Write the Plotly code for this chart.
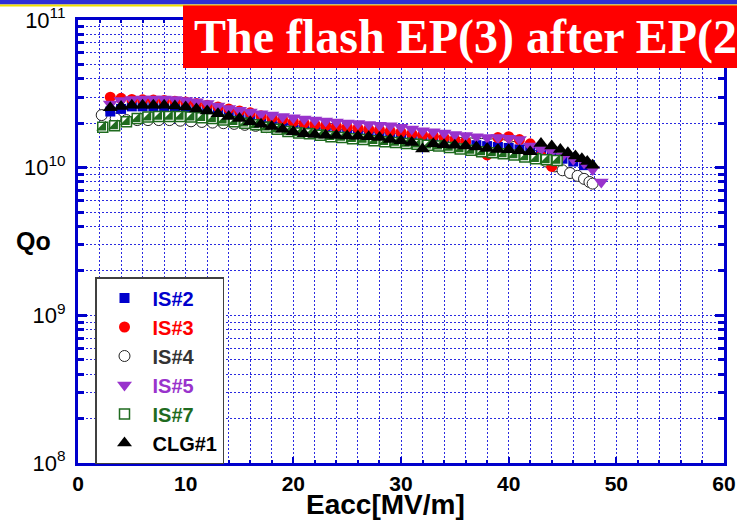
import numpy as np
import plotly.graph_objects as go

# ---------------- data (Q values in units of 1e10) ----------------
e_is2 = [3, 4, 5, 6, 7, 8, 9, 10, 11, 12, 13, 14, 15, 16, 17, 18, 19, 20, 21, 22, 23, 24, 25, 26,
         27, 28, 29, 30, 31, 32, 33, 34, 35, 36, 37, 38, 39, 40, 41, 42, 43, 44, 45, 46, 47]
q_is2 = [2.4, 2.5, 2.6, 2.6, 2.6, 2.6, 2.55, 2.5, 2.45, 2.4, 2.3, 2.25, 2.2, 2.1, 2.0, 1.95, 1.9,
         1.85, 1.82, 1.8, 1.78, 1.75, 1.72, 1.7, 1.68, 1.66, 1.64, 1.6, 1.58, 1.56, 1.53, 1.5, 1.48,
         1.45, 1.42, 1.4, 1.38, 1.36, 1.33, 1.3, 1.26, 1.22, 1.15, 1.1, 1.04]

e_is3 = [3, 4, 5, 6, 7, 8, 9, 10, 11, 12, 13, 14, 15, 16, 17, 18, 19, 20, 21, 22, 23, 24, 25, 26,
         27, 28, 29, 30, 31, 32, 33, 34, 35, 36, 37, 38, 39, 40, 41, 42, 43, 44]
q_is3 = [3.0, 2.95, 2.9, 2.88, 2.87, 2.85, 2.82, 2.78, 2.72, 2.65, 2.58, 2.5, 2.42, 2.35, 2.25,
         2.18, 2.12, 2.05, 2.0, 1.96, 1.93, 1.9, 1.88, 1.85, 1.82, 1.8, 1.77, 1.74, 1.7, 1.67, 1.64,
         1.6, 1.55, 1.5, 1.3, 1.22, 1.6, 1.62, 1.55, 1.45, 1.2, 1.02]

e_is4 = [2.2, 3.5, 4.5, 5.5, 6.5, 7.5, 8.5, 9.5, 10.5, 11.5, 12.5, 13.5, 14.5, 15.5, 16.5, 17.5,
         18.5, 19.5, 20.5, 21.5, 22.5, 23.5, 24.5, 25.5, 26.5, 27.5, 28.5, 29.5, 30.5, 31.5, 32.5,
         33.5, 34.5, 35.5, 36.5, 37.5, 38.5, 39.5, 40.5, 41.5, 42.5, 43.5, 44.3, 45.0, 45.7, 46.4,
         47.0, 47.5, 47.8]
q_is4 = [2.27, 2.15, 2.1, 2.1, 2.1, 2.1, 2.1, 2.08, 2.06, 2.04, 2.02, 2.0, 1.98, 1.95, 1.92, 1.88,
         1.85, 1.8, 1.76, 1.72, 1.7, 1.68, 1.66, 1.64, 1.62, 1.6, 1.58, 1.56, 1.54, 1.52, 1.5, 1.49,
         1.48, 1.47, 1.46, 1.45, 1.44, 1.42, 1.38, 1.3, 1.2, 1.1, 1.02, 0.96, 0.92, 0.88, 0.84, 0.8,
         0.78]

e_is5 = [3, 4, 5, 6, 7, 8, 9, 10, 11, 12, 13, 14, 15, 16, 17, 18, 19, 20, 21, 22, 23, 24, 25, 26,
         27, 28, 29, 30, 31, 32, 33, 34, 35, 36, 37, 38, 39, 40, 41, 42, 43, 44, 45, 46, 47, 47.8,
         48.6]
q_is5 = [2.7, 2.85, 2.9, 2.92, 2.92, 2.92, 2.9, 2.85, 2.8, 2.72, 2.62, 2.52, 2.45, 2.38, 2.32,
         2.27, 2.22, 2.18, 2.14, 2.1, 2.07, 2.04, 2.01, 1.99, 1.96, 1.94, 1.92, 1.88, 1.83, 1.78,
         1.75, 1.72, 1.68, 1.65, 1.62, 1.6, 1.6, 1.58, 1.55, 1.4, 1.33, 1.28, 1.2, 1.14, 1.08, 0.97,
         0.8]

e_is7 = [2.3, 3.4, 4.5, 5.5, 6.5, 7.5, 8.5, 9.5, 10.5, 11.5, 12.5, 13.5, 14.5, 15.5, 16.5, 17.5,
         18.5, 19.5, 20.5, 21.5, 22.5, 23.5, 24.5, 25.5, 26.5, 27.5, 28.5, 29.5, 30.5, 31.5, 32.5,
         33.5, 34.5, 35.5, 36.5, 37.5, 38.5, 39.5, 40.5, 41.5, 42.5, 43.5, 44.5]
q_is7 = [1.88, 1.92, 2.05, 2.15, 2.2, 2.22, 2.22, 2.22, 2.2, 2.18, 2.15, 2.1, 2.05, 2.0, 1.95,
         1.88, 1.82, 1.76, 1.72, 1.7, 1.66, 1.62, 1.6, 1.57, 1.55, 1.52, 1.5, 1.48, 1.46, 1.44,
         1.42, 1.4, 1.37, 1.34, 1.31, 1.28, 1.26, 1.24, 1.22, 1.18, 1.15, 1.13, 1.12]

e_clg1 = [3, 4, 5, 6, 7, 8, 9, 10, 11, 12, 13, 14, 15, 16, 17, 18, 19, 20, 21, 22, 23, 24, 25, 26,
          27, 28, 29, 30, 31, 32, 33, 34, 35, 36, 37, 38, 39, 40, 41, 42, 43, 44, 44.8, 45.5, 46.2,
          46.8, 47.3, 47.8]
q_clg1 = [2.55, 2.6, 2.65, 2.65, 2.65, 2.65, 2.62, 2.58, 2.5, 2.42, 2.32, 2.22, 2.15, 2.05, 1.97,
          1.9, 1.82, 1.75, 1.7, 1.68, 1.66, 1.65, 1.64, 1.63, 1.62, 1.6, 1.55, 1.52, 1.48, 1.34,
          1.45, 1.43, 1.42, 1.4, 1.38, 1.35, 1.33, 1.32, 1.3, 1.28, 1.46, 1.4, 1.33, 1.26, 1.2,
          1.15, 1.1, 1.04]

x_tick_vals = [0, 10, 20, 30, 40, 50, 60]
y_tick_vals = [1e8, 1e9, 1e10, 1e11]
y_tick_text = ["10<sup>8</sup>", "10<sup>9</sup>", "10<sup>10</sup>", "10<sup>11</sup>"]

title_text = "The flash EP(3) after EP(2)"
x_title = "Eacc[MV/m]"
y_title = "Qo"

# ---------------- layout helpers ----------------
W, H = 737, 520
L, R, T, B = 78, 724, 20, 463


def px(xp):
    return (xp - L) / (R - L)


def py(yp):
    return (B - yp) / (B - T)


def scale(v):
    return np.array(v) * 1e10


FONT = "Liberation Sans, Arial, sans-serif"
GREEN = "#1f6b1f"
fig = go.Figure()

# IS#4 open circles (drawn first, underneath)
fig.add_trace(go.Scatter(x=e_is4, y=scale(q_is4), mode="markers",
                         name='<span style="color:#333333">IS#4</span>', legendrank=3,
                         marker=dict(symbol="circle", size=11, color="white",
                                     line=dict(color="#222222", width=1))))
fig.add_trace(go.Scatter(x=e_is2, y=scale(q_is2), mode="markers",
                         name='<span style="color:#0000cc">IS#2</span>', legendrank=1,
                         marker=dict(symbol="square", size=10, color="#0000cc",
                                     line=dict(width=0))))
fig.add_trace(go.Scatter(x=e_is3, y=scale(q_is3), mode="markers",
                         name='<span style="color:#ff0000">IS#3</span>', legendrank=2,
                         marker=dict(symbol="circle", size=11, color="#ff0000",
                                     line=dict(width=0))))
fig.add_trace(go.Scatter(x=e_is5, y=scale(q_is5), mode="markers",
                         name='<span style="color:#9933cc">IS#5</span>', legendrank=4,
                         marker=dict(symbol="triangle-down", size=13, color="#9933cc",
                                     line=dict(width=0))))
fig.add_trace(go.Scatter(x=e_is7, y=scale(q_is7), mode="markers",
                         name='<span style="color:#1f6b1f">IS#7</span>', legendrank=5,
                         legendgroup="is7",
                         marker=dict(symbol="square", size=10, color="white",
                                     line=dict(color=GREEN, width=1.5))))
fig.add_trace(go.Scatter(x=e_is7, y=scale(q_is7), mode="markers", showlegend=False,
                         legendgroup="is7", hoverinfo="skip",
                         marker=dict(symbol="triangle-se", size=11, color=GREEN,
                                     line=dict(width=0))))
fig.add_trace(go.Scatter(x=e_clg1, y=scale(q_clg1), mode="markers",
                         name='<span style="color:#000000">CLG#1</span>', legendrank=6,
                         marker=dict(symbol="triangle-up", size=13, color="#000000",
                                     line=dict(width=0))))

AX = "#0000cc"
GRID = "#2a2ae0"
fig.update_xaxes(range=[0, 60], tickvals=x_tick_vals, ticks="inside", ticklen=6, tickwidth=2,
                 tickcolor=AX, showline=True, linecolor=AX, linewidth=3, mirror="ticks",
                 showgrid=True, gridcolor=GRID, gridwidth=1, griddash="2px,2px",
                 zeroline=False, ticklabelstandoff=0, automargin=False,
                 tickfont=dict(family=FONT, size=21, color="black", weight="bold"),
                 minor=dict(dtick=2, tick0=0, ticks="inside", ticklen=3, tickwidth=1.5,
                            tickcolor=AX, showgrid=True, gridcolor=GRID, gridwidth=1,
                            griddash="2px,2px"))
fig.update_yaxes(type="log", range=[8, 11], tickmode="array", tickvals=y_tick_vals,
                 ticktext=y_tick_text, ticks="inside", ticklen=9, tickwidth=3, tickcolor=AX,
                 showline=True, linecolor=AX, linewidth=3, mirror="ticks",
                 showgrid=True, gridcolor=GRID, gridwidth=1, griddash="2px,2px",
                 zeroline=False, ticklabelstandoff=5, automargin=False,
                 tickfont=dict(family=FONT, size=22, color="black"),
                 minor=dict(dtick="D1", ticks="inside", ticklen=6, tickwidth=2.5,
                            tickcolor=AX, showgrid=True, gridcolor=GRID, gridwidth=1,
                            griddash="2px,2px"))

shapes = [
    dict(type="rect", xref="paper", yref="paper", x0=-0.2, x1=1.2, y0=py(4.5), y1=py(-2),
         fillcolor="#2f2fd6", line=dict(width=0), layer="above"),
    dict(type="rect", xref="paper", yref="paper", x0=-0.2, x1=1.2, y0=py(6.5), y1=py(4.5),
         fillcolor="#f0e000", line=dict(width=0), layer="above"),
    dict(type="rect", xref="paper", yref="paper", x0=px(183), x1=1.2, y0=py(68), y1=py(5.5),
         fillcolor="#ff0000", line=dict(width=0), layer="above"),
]

annotations = [
    dict(text="<b>" + title_text + "</b>", xref="paper", yref="paper", x=px(192), y=py(37),
         xanchor="left", yanchor="middle", showarrow=False,
         font=dict(family="Liberation Serif, Times New Roman, serif", size=48, color="white")),
    dict(text="<b>" + y_title + "</b>", xref="paper", yref="paper", x=px(33), y=py(241),
         xanchor="center", yanchor="middle", showarrow=False,
         font=dict(family=FONT, size=25, color="black")),
    dict(text="<b>" + x_title + "</b>", xref="paper", yref="paper", x=px(385), y=py(505),
         xanchor="center", yanchor="middle", showarrow=False,
         font=dict(family=FONT, size=28, color="black")),
]

fig.update_layout(
    width=W, height=H,
    margin=dict(l=L, r=W - R, t=T, b=H - B, pad=0, autoexpand=False),
    paper_bgcolor="white", plot_bgcolor="white",
    shapes=shapes, annotations=annotations,
    showlegend=True,
    legend=dict(x=px(95), y=py(277), xanchor="left", yanchor="top",
                bgcolor="white", bordercolor="#404040", borderwidth=1.5,
                font=dict(family=FONT, size=20, weight="bold", color="black"),
                itemwidth=46, tracegroupgap=0, traceorder="normal"),
)

fig.write_html("out.html")
